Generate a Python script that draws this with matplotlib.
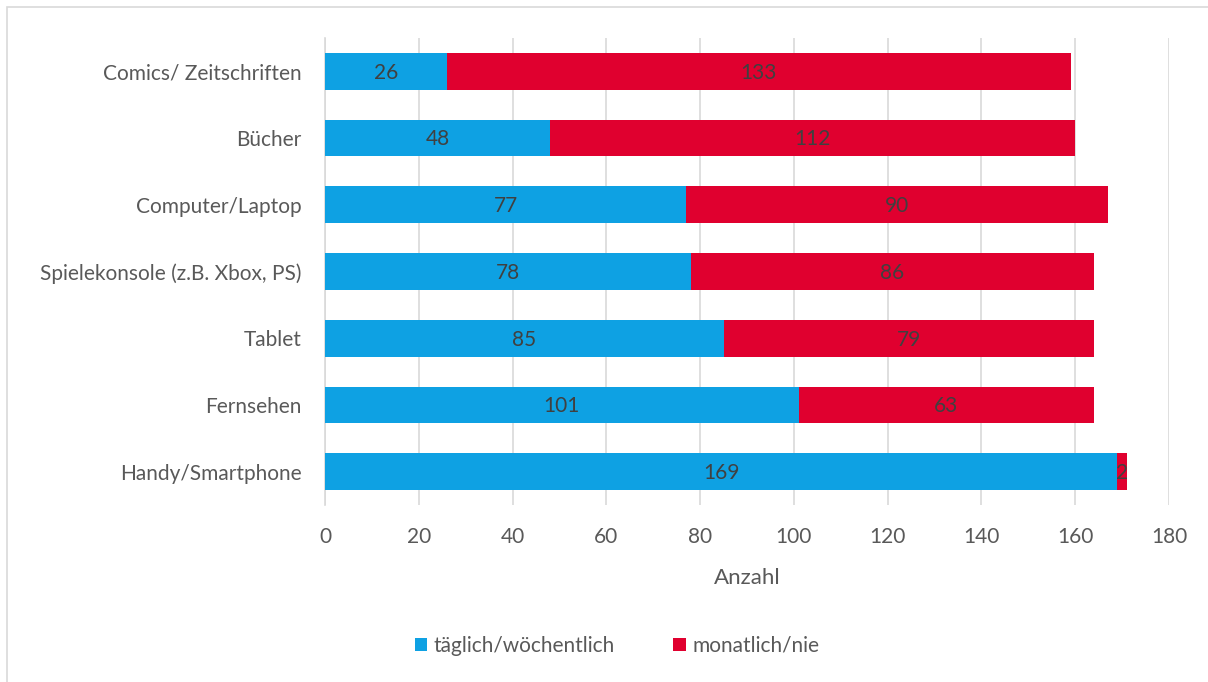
import numpy as np
import matplotlib
matplotlib.use('Agg')
import matplotlib.pyplot as plt
from matplotlib.patches import Rectangle

categories = ['Handy/Smartphone', 'Fernsehen', 'Tablet', 'Spielekonsole (z.B. Xbox, PS)',
              'Computer/Laptop', 'Bücher', 'Comics/ Zeitschriften']
taeglich = [169, 101, 85, 78, 77, 48, 26]
monatlich = [2, 63, 79, 86, 90, 112, 133]
xticks = [0, 20, 40, 60, 80, 100, 120, 140, 160, 180]

blue = '#0ea1e3'
red = '#e0002f'
textcolor = '#595959'
plt.rcParams['font.family'] = ['Lato', 'DejaVu Sans']

fig = plt.figure(figsize=(12.08, 6.82), dpi=100)
fig.patches.append(Rectangle((7/1208, -0.01), 1.1, 1 - 7/682 + 0.01, transform=fig.transFigure,
                             fill=False, edgecolor='#d9d9d9', lw=1.2))
ax = fig.add_axes([325/1208, 1 - 505/682, 844/1208, 467/682])

y = np.arange(len(categories))
b1 = ax.barh(y, taeglich, height=0.55, color=blue, label='täglich/wöchentlich', zorder=3)
b2 = ax.barh(y, monatlich, left=taeglich, height=0.55, color=red, label='monatlich/nie', zorder=3)

for bars, vals in ((b1, taeglich), (b2, monatlich)):
    for r, v in zip(bars, vals):
        ax.text(r.get_x() + r.get_width() / 2, r.get_y() + r.get_height() / 2 - 0.02, str(v),
                ha='center', va='center', fontsize=15, color='#404040', zorder=4)

ax.set_xlim(0, 180)
ax.set_ylim(-0.5, len(categories) - 0.5)
ax.set_xticks(xticks)
ax.set_yticks(y)
ax.set_yticklabels(categories)
ax.tick_params(axis='both', length=0, labelsize=15, labelcolor=textcolor)
ax.tick_params(axis='x', pad=16)
ax.tick_params(axis='y', pad=17)
ax.grid(axis='x', color='#d9d9d9', lw=1.2, zorder=0)
for s in ['top', 'right', 'bottom']:
    ax.spines[s].set_visible(False)
ax.spines['left'].set_color('#d9d9d9')
ax.spines['left'].set_linewidth(1.2)
ax.set_xlabel('Anzahl', fontsize=16, color=textcolor, labelpad=15)

fig.legend(handles=[b1, b2], loc='center', bbox_to_anchor=(617/1208, 1 - 646/682), ncol=2,
           frameon=False, fontsize=15, labelcolor=textcolor, handlelength=0.6, handleheight=0.6,
           handletextpad=0.3, columnspacing=2.8)

plt.savefig('out.png', dpi=100)
